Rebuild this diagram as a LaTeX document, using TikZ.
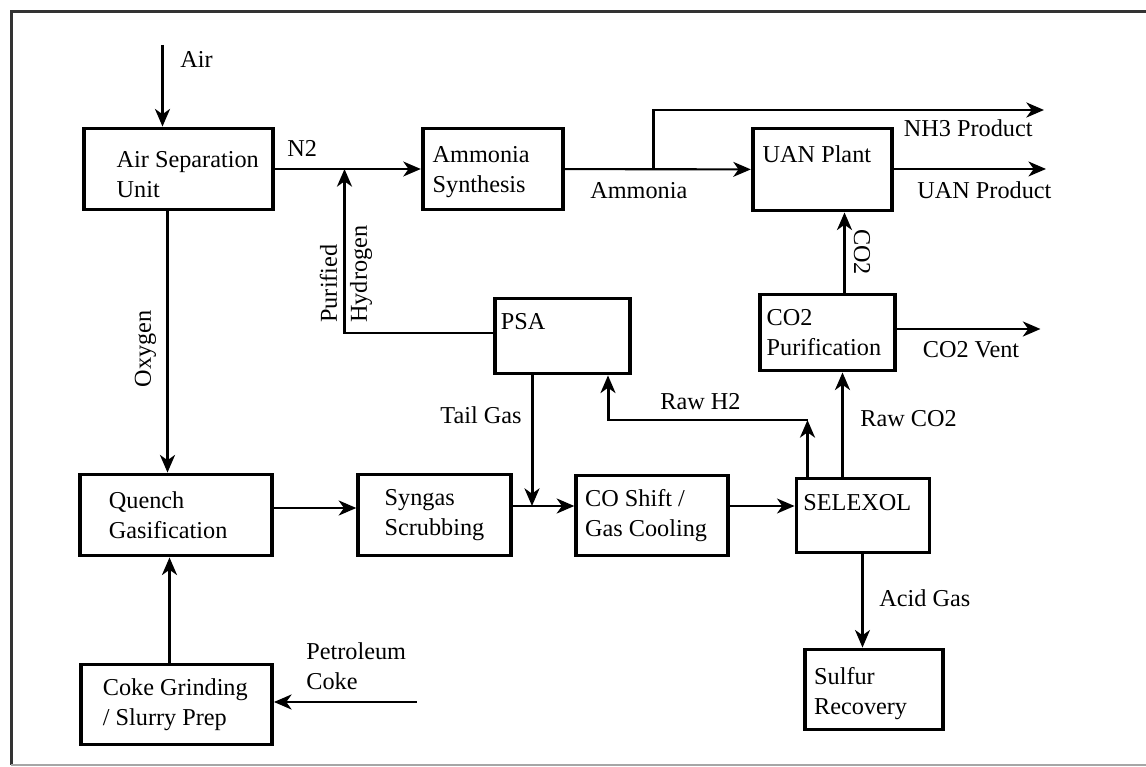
\documentclass[tikz,border=0pt]{standalone}
\usepackage{fontspec}
\setmainfont{Liberation Serif}
\usetikzlibrary{arrows.meta,positioning}

\begin{document}
\begin{tikzpicture}[
  >={Stealth[length=10pt,width=8.5pt,inset=3pt]},
  unit/.style={draw,line width=2.2pt,minimum height=1.62cm},
  tag/.style={align=left,inner sep=0pt,font=\fontsize{13.8}{17}\selectfont},
  lbl/.style={inner sep=0pt,anchor=base west,font=\fontsize{13.8}{17}\selectfont},
  flow/.style={->,line width=1.7pt},
  thinflow/.style={->,line width=1.2pt}
]
\useasboundingbox (0,0) rectangle (22.92,-15.34);
% frame
\draw[line width=1.8pt,black!80] (22.92,-0.23) -- (0.23,-0.23) -- (0.23,-15.30);
\draw[line width=0.6pt,black!35] (0.23,-15.30) -- (22.92,-15.30);

% process units
\node[unit,minimum width=3.79cm] (asu) at (3.57,-3.38) {};
\node[unit,minimum width=2.81cm] (amsyn) at (9.86,-3.38) {};
\node[unit,minimum width=2.79cm,minimum height=1.64cm] (uan) at (16.45,-3.39) {};
\node[unit,minimum width=2.70cm,minimum height=1.50cm] (psa) at (11.25,-6.72) {};
\node[unit,minimum width=2.71cm,minimum height=1.52cm] (co2pur) at (16.55,-6.65) {};
\node[unit,minimum width=3.84cm] (quench) at (3.52,-10.30) {};
\node[unit,minimum width=3.05cm] (scrub) at (8.69,-10.30) {};
\node[unit,minimum width=3.03cm,minimum height=1.60cm] (shift) at (13.04,-10.31) {};
\node[unit,minimum width=2.66cm,minimum height=1.48cm] (selexol) at (17.26,-10.31) {};
\node[unit,minimum width=2.75cm,minimum height=1.60cm] (sulfur) at (17.48,-13.79) {};
\node[unit,minimum width=3.82cm,minimum height=1.60cm] (coke) at (3.53,-14.09) {};

\node[tag,right=0.69cm of asu.west,yshift=-0.11cm] (asutxt) {Air Separation\\Unit};
\node[tag,right=0.23cm of amsyn.west,yshift=-0.06cm] (amsyntxt) {Ammonia\\Synthesis};
\node[tag,right=0.23cm of uan.west,yshift=0.30cm] (uantxt) {UAN Plant};
\node[tag,right=0.15cm of psa.west,yshift=0.28cm] (psatxt) {PSA};
\node[tag,right=0.17cm of co2pur.west] (co2purtxt) {CO2\\Purification};
\node[tag,right=0.61cm of quench.west] (quenchtxt) {Quench\\Gasification};
\node[tag,right=0.56cm of scrub.west] (scrubtxt) {Syngas\\Scrubbing};
\node[tag,right=0.21cm of shift.west] (shifttxt) {CO Shift /\\Gas Cooling};
\node[tag,right=0.17cm of selexol.west,yshift=0.25cm] (selexoltxt) {SELEXOL};
\node[tag,right=0.21cm of sulfur.west,yshift=-0.08cm] (sulfurtxt) {Sulfur\\Recovery};
\node[tag,right=0.47cm of coke.west] (coketxt) {Coke Grinding\\/ Slurry Prep};

% free ends and junctions
\coordinate (airin) at (3.25,-0.90);
\coordinate (petin) at (8.33,-14.04);
\coordinate (h2merge) at (6.89,-3.38);
\coordinate (nh3split) at (13.07,-3.38);
\coordinate (nh3out) at (20.88,-2.20);
\coordinate (uanout) at (20.92,-3.38);
\coordinate (ventout) at (20.81,-6.58);
\coordinate (rawh2) at (16.15,-8.40);
\coordinate (tailjoin) at (10.64,-10.12);
\coordinate (oxy) at (3.35,0);
\coordinate (cokeup) at (3.39,0);
\coordinate (h2up) at (12.16,0);
\coordinate (rawco2) at (16.85,0);
\coordinate (co2up) at (16.89,0);
\coordinate (acid) at (17.25,0);
\coordinate (gasline) at (0,-10.16);
\coordinate (purline) at (0,-6.66);

% streams
\draw[flow] (airin) -- (airin |- asu.north);
\draw[thinflow] (asu) -- (amsyn);
\draw[flow] (psa.west |- purline) -| (h2merge);
\draw[flow] (asu.south -| oxy) -- (quench.north -| oxy);
\draw[flow] (coke.north -| cokeup) -- (quench.south -| cokeup);
\draw[flow] (petin) -- (petin -| coke.east);
\draw[flow] (quench.east |- gasline) -- (scrub.west |- gasline);
\draw[flow] (scrub.east |- tailjoin) -- (shift.west |- tailjoin);
\draw[flow] (psa.south -| tailjoin) -- (tailjoin);
\draw[thinflow] (shift.east |- tailjoin) -- (selexol.west |- tailjoin);
\draw[thinflow] (selexol.south -| acid) -- (sulfur.north -| acid);
\draw[flow] (selexol.north -| rawco2) -- (co2pur.south -| rawco2);
\draw[flow] (selexol.north -| rawh2) -- (rawh2);
\draw[flow] (rawh2) -| (psa.south -| h2up);
\draw[flow] (co2pur.north -| co2up) -- (uan.south -| co2up);
\draw[flow] (co2pur.east |- ventout) -- (ventout);
\draw[thinflow] (amsyn) -- (uan);
\draw[flow] (nh3split) |- (nh3out);
\draw[thinflow] (uan.east |- uanout) -- (uanout);

% stream labels
\node[lbl] (airlbl) at (3.60,-1.36) {Air};
\node[lbl] (n2lbl) at (5.74,-3.14) {N2};
\node[lbl] (amlbl) at (11.80,-3.98) {Ammonia};
\node[lbl] (nh3lbl) at (18.07,-2.74) {NH3 Product};
\node[lbl] (uanlbl) at (18.34,-3.98) {UAN Product};
\node[lbl] (ventlbl) at (18.45,-7.16) {CO2 Vent};
\node[lbl] (rawco2lbl) at (17.20,-8.53) {Raw CO2};
\node[lbl] (rawh2lbl) at (13.20,-8.20) {Raw H2};
\node[lbl] (taillbl) at (8.80,-8.48) {Tail Gas};
\node[lbl] (acidlbl) at (17.58,-12.12) {Acid Gas};
\node[tag,anchor=north west] (petlbl) at (6.12,-12.84) {Petroleum\\Coke};
\node[tag,rotate=90] (oxylbl) at (2.91,-6.98) {Oxygen};
\node[tag,rotate=90,anchor=north west] (purlbl) at (6.39,-6.46) {Purified\\Hydrogen};
\node[tag,rotate=-90] (co2lbl) at (17.24,-5.04) {CO2};
\end{tikzpicture}
\end{document}
